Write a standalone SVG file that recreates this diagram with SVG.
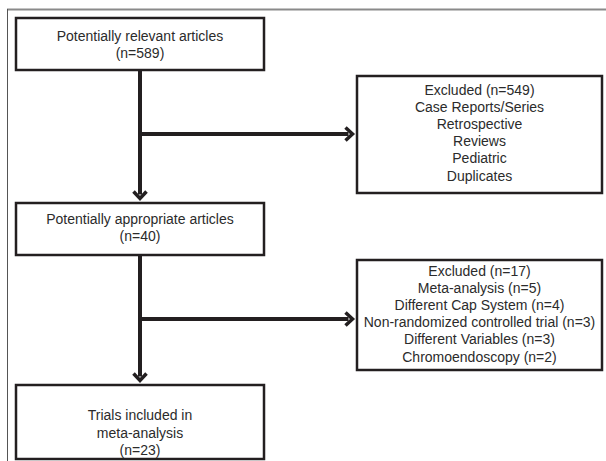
<svg xmlns="http://www.w3.org/2000/svg" width="606" height="461" viewBox="0 0 606 461">
<style>
.box{fill:#fff;stroke:#231f20;stroke-width:2.5}
.t{font-family:"Liberation Sans",Arial,sans-serif;font-size:14px;fill:#2b2b2b;text-anchor:middle}
.c{fill:none;stroke:#231f20;stroke-width:4;stroke-linecap:butt}
</style>
<defs>
<marker id="ah" markerUnits="userSpaceOnUse" viewBox="-12 -10 14 20" markerWidth="14" markerHeight="20" refX="-6.5" refY="0" orient="auto">
<path d="M-9.5,-6.5 L-2.5,0 L-9.5,6.5" fill="none" stroke="#231f20" stroke-width="3.5" stroke-linejoin="miter"/>
</marker>
</defs>
<g id="frame">
<line x1="7" y1="9.5" x2="606" y2="9.5" stroke="#8a8a8a" stroke-width="2"/>
<line x1="7.5" y1="9" x2="7.5" y2="461" stroke="#555" stroke-width="1"/>
</g>
<g id="connectors">
<line class="c" x1="140" y1="70" x2="140" y2="194.5" marker-end="url(#ah)"/>
<line class="c" x1="140" y1="134" x2="348.5" y2="134" marker-end="url(#ah)"/>
<line class="c" x1="140" y1="255" x2="140" y2="376.5" marker-end="url(#ah)"/>
<line class="c" x1="140" y1="319" x2="348.5" y2="319" marker-end="url(#ah)"/>
</g>
<g id="n1">
<rect class="box" x="16" y="18" width="248" height="52"/>
<text class="t" x="140" y="40.5">Potentially relevant articles</text>
<text class="t" x="140" y="57.5">(n=589)</text>
</g>
<g id="n2">
<rect class="box" x="357" y="76" width="245" height="117"/>
<text class="t" x="479.5" y="94.5">Excluded (n=549)</text>
<text class="t" x="479.5" y="111.7">Case Reports/Series</text>
<text class="t" x="479.5" y="128.9">Retrospective</text>
<text class="t" x="479.5" y="146.1">Reviews</text>
<text class="t" x="479.5" y="163.3">Pediatric</text>
<text class="t" x="479.5" y="180.5">Duplicates</text>
</g>
<g id="n3">
<rect class="box" x="16" y="203" width="248" height="52"/>
<text class="t" x="140" y="224">Potentially appropriate articles</text>
<text class="t" x="140" y="241">(n=40)</text>
</g>
<g id="n4">
<rect class="box" x="357" y="260" width="245" height="110"/>
<text class="t" x="479.5" y="275.5">Excluded (n=17)</text>
<text class="t" x="479.5" y="292.7">Meta-analysis (n=5)</text>
<text class="t" x="479.5" y="309.9">Different Cap System (n=4)</text>
<text class="t" x="479.5" y="327.1">Non-randomized controlled trial (n=3)</text>
<text class="t" x="479.5" y="344.3">Different Variables (n=3)</text>
<text class="t" x="479.5" y="361.5">Chromoendoscopy (n=2)</text>
</g>
<g id="n5">
<rect class="box" x="16" y="385" width="248" height="74"/>
<text class="t" x="140" y="420">Trials included in</text>
<text class="t" x="140" y="437.5">meta-analysis</text>
<text class="t" x="140" y="455">(n=23)</text>
</g>
</svg>
